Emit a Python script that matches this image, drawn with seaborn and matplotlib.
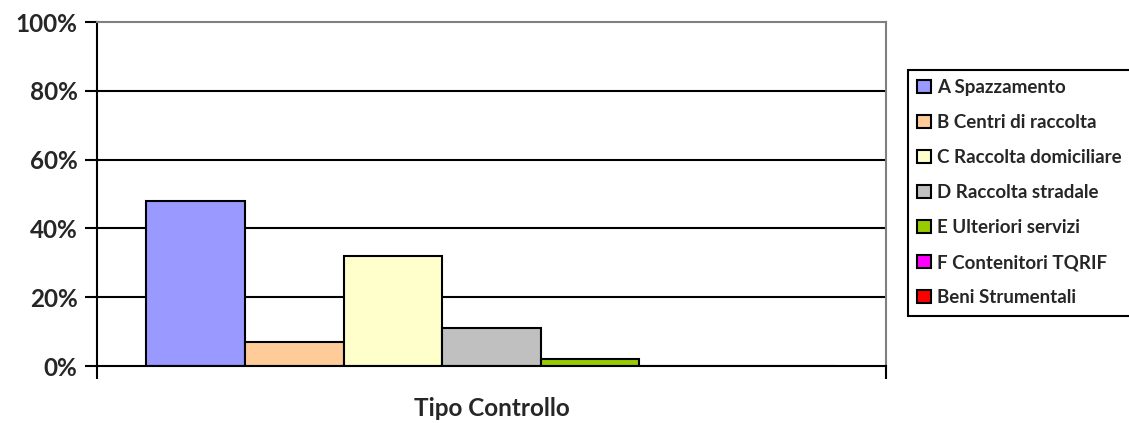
import matplotlib
matplotlib.use('Agg')
import matplotlib.pyplot as plt
import seaborn as sns
import pandas as pd
from matplotlib.ticker import PercentFormatter

# Data
categorie = ['A Spazzamento', 'B Centri di raccolta', 'C Raccolta domiciliare',
             'D Raccolta stradale', 'E Ulteriori servizi', 'F Contenitori TQRIF',
             'Beni Strumentali']
valori = [0.48, 0.07, 0.32, 0.11, 0.02, 0.0, 0.0]
colori = ['#9999FF', '#FFCC99', '#FFFFCC', '#C0C0C0', '#99CC00', '#FF00FF', '#FF0000']
asse_x = 'Tipo Controllo'

df = pd.DataFrame({'x': [asse_x] * len(categorie), 'serie': categorie, 'valore': valori})

sns.set_style('white')
plt.rcParams['font.family'] = ['Lato', 'DejaVu Sans']

fig = plt.figure(figsize=(11.29, 4.23), dpi=100)
ax = fig.add_axes([97 / 1129, 57 / 423, 789 / 1129, 344 / 423])

sns.barplot(data=df, x='x', y='valore', hue='serie', hue_order=categorie,
            palette=colori, width=7 / 8, edgecolor='black', linewidth=1.5,
            saturation=1, errorbar=None, ax=ax)

ax.set_xlim(-0.5, 0.5)
ax.set_ylim(0, 1)
ax.set_yticks([0, 0.2, 0.4, 0.6, 0.8, 1.0])
ax.yaxis.set_major_formatter(PercentFormatter(1.0, decimals=0))
for y in [0.2, 0.4, 0.6, 0.8]:
    ax.axhline(y, color='black', lw=1.5, zorder=0)

ax.set_xticks([-0.5, 0.5])
ax.set_xticklabels(['', ''])
ax.tick_params(axis='x', length=9, width=1.5, color='black', direction='out', bottom=True)
ax.tick_params(axis='y', length=9, width=1.5, color='black', direction='out', left=True,
               labelsize=17.5, pad=5)
for lab in ax.get_yticklabels():
    lab.set_fontweight('bold')

ax.spines['left'].set_color('black')
ax.spines['bottom'].set_color('black')
ax.spines['left'].set_linewidth(1.5)
ax.spines['bottom'].set_linewidth(1.5)
ax.spines['top'].set_color('#808080')
ax.spines['right'].set_color('#808080')
ax.spines['top'].set_linewidth(1.5)
ax.spines['right'].set_linewidth(1.5)

ax.set_ylabel('')
ax.set_xlabel(asse_x, fontsize=17.5, fontweight='bold')
ax.xaxis.set_label_coords(0.5, (366 - 397) / 344)

leg = ax.legend(loc='upper left', bbox_to_anchor=((908 - 97) / 789, (366 - 70) / 344),
                frameon=True, fancybox=False, edgecolor='black', framealpha=1,
                prop={'weight': 'bold', 'size': 13.5}, handlelength=0.7,
                handleheight=0.7, handletextpad=0.35, labelspacing=0.96,
                borderpad=0.5, borderaxespad=0)
leg.get_frame().set_linewidth(1.5)
for h in leg.legend_handles:
    h.set_edgecolor('black')
    h.set_linewidth(1.5)

fig.savefig('out.png', dpi=100)
